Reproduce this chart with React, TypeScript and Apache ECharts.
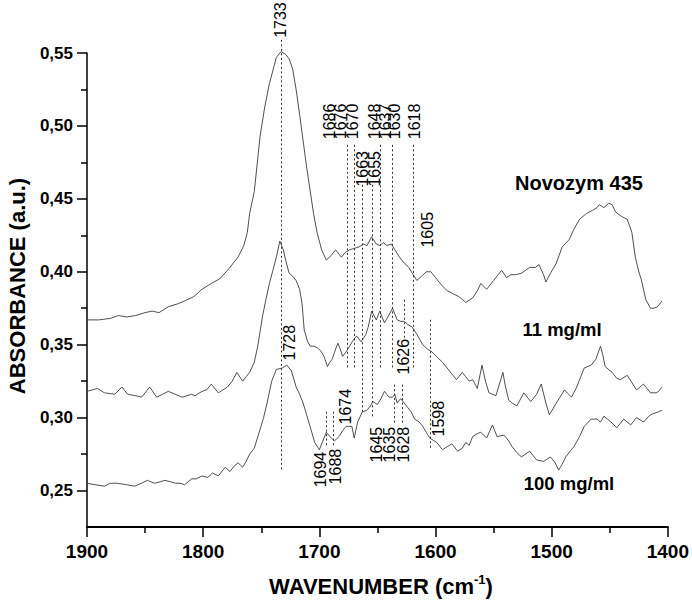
import React, { useEffect, useRef } from 'react';
import * as echarts from 'echarts';

const FONT = '"Liberation Sans", Arial, Helvetica, sans-serif';

// [wavenumber, absorbance]
const novozym435: [number, number][] = [
  [1900, 0.367], [1890, 0.367], [1880, 0.368], [1873, 0.370], [1866, 0.369], [1858, 0.370],
  [1850, 0.372], [1844, 0.373], [1838, 0.372], [1830, 0.376], [1822, 0.378], [1816, 0.380],
  [1808, 0.383], [1801, 0.388], [1793, 0.392], [1786, 0.395], [1779, 0.401], [1770, 0.410],
  [1765, 0.418], [1762, 0.427], [1760, 0.440], [1756, 0.455], [1751, 0.493], [1747, 0.513],
  [1743, 0.529], [1737, 0.547], [1733, 0.551], [1729, 0.549], [1726, 0.546], [1723, 0.539],
  [1720, 0.525], [1717, 0.508], [1714, 0.490], [1711, 0.472], [1708, 0.456], [1705, 0.440],
  [1702, 0.427], [1698, 0.415], [1694, 0.408], [1690, 0.411], [1686, 0.415], [1683, 0.412],
  [1681, 0.410], [1678, 0.413], [1674, 0.415], [1670, 0.416], [1666, 0.417], [1662, 0.419],
  [1659, 0.418], [1655, 0.424], [1651, 0.419], [1648, 0.418], [1645, 0.420], [1642, 0.418],
  [1638, 0.419], [1635, 0.415], [1631, 0.410], [1627, 0.406], [1623, 0.403], [1620, 0.399],
  [1616, 0.394], [1612, 0.397], [1608, 0.400], [1604, 0.400], [1600, 0.396], [1595, 0.391],
  [1590, 0.387], [1585, 0.385], [1580, 0.383], [1577, 0.381], [1574, 0.379], [1568, 0.382],
  [1564, 0.387], [1561, 0.392], [1556, 0.388], [1550, 0.394], [1546, 0.398], [1543, 0.401],
  [1539, 0.396], [1535, 0.398], [1531, 0.398], [1526, 0.399], [1519, 0.403], [1514, 0.403],
  [1511, 0.405], [1507, 0.398], [1505, 0.393], [1501, 0.399], [1496, 0.406], [1491, 0.417],
  [1485, 0.422], [1481, 0.429], [1476, 0.436], [1470, 0.440], [1465, 0.442], [1461, 0.444],
  [1459, 0.446], [1455, 0.444], [1451, 0.447], [1448, 0.446], [1445, 0.441], [1440, 0.438],
  [1435, 0.436], [1431, 0.427], [1428, 0.410], [1425, 0.400], [1423, 0.395], [1419, 0.381],
  [1415, 0.375], [1412, 0.375], [1409, 0.376], [1405, 0.380],
];

const mg11: [number, number][] = [
  [1900, 0.318], [1891, 0.320], [1885, 0.317], [1876, 0.316], [1870, 0.321], [1865, 0.316],
  [1858, 0.315], [1853, 0.314], [1846, 0.321], [1840, 0.314], [1835, 0.316], [1830, 0.318],
  [1824, 0.316], [1818, 0.314], [1810, 0.316], [1807, 0.315], [1801, 0.318], [1797, 0.319],
  [1793, 0.323], [1787, 0.317], [1783, 0.319], [1779, 0.321], [1775, 0.325], [1771, 0.331],
  [1766, 0.325], [1763, 0.328], [1760, 0.331], [1756, 0.338], [1753, 0.349], [1749, 0.369],
  [1746, 0.381], [1743, 0.392], [1740, 0.401], [1737, 0.410], [1734, 0.421], [1731, 0.415],
  [1729, 0.408], [1726, 0.399], [1723, 0.397], [1720, 0.394], [1717, 0.388], [1715, 0.379],
  [1713, 0.360], [1710, 0.352], [1708, 0.349], [1705, 0.349], [1702, 0.348], [1699, 0.346],
  [1696, 0.342], [1693, 0.335], [1691, 0.338], [1689, 0.340], [1686, 0.347], [1684, 0.351],
  [1682, 0.347], [1680, 0.342], [1677, 0.345], [1674, 0.349], [1671, 0.353], [1668, 0.356],
  [1664, 0.352], [1660, 0.357], [1658, 0.362], [1655, 0.373], [1653, 0.370], [1651, 0.367],
  [1648, 0.373], [1646, 0.369], [1644, 0.365], [1641, 0.369], [1637, 0.375], [1635, 0.371],
  [1633, 0.367], [1630, 0.366], [1627, 0.366], [1624, 0.364], [1620, 0.362], [1616, 0.357],
  [1611, 0.350], [1607, 0.347], [1603, 0.345], [1598, 0.341], [1594, 0.338], [1588, 0.332],
  [1582, 0.326], [1577, 0.331], [1574, 0.328], [1571, 0.325], [1568, 0.326], [1564, 0.320],
  [1560, 0.336], [1557, 0.325], [1554, 0.317], [1548, 0.315], [1542, 0.331], [1540, 0.322],
  [1537, 0.312], [1534, 0.310], [1530, 0.308], [1524, 0.317], [1518, 0.311], [1513, 0.316],
  [1509, 0.323], [1505, 0.310], [1502, 0.302], [1499, 0.306], [1496, 0.310], [1489, 0.319],
  [1483, 0.314], [1479, 0.320], [1475, 0.328], [1472, 0.334], [1466, 0.336], [1462, 0.340],
  [1458, 0.349], [1456, 0.343], [1454, 0.335], [1448, 0.331], [1444, 0.327], [1441, 0.326],
  [1435, 0.329], [1431, 0.324], [1427, 0.319], [1421, 0.323], [1418, 0.320], [1415, 0.317],
  [1410, 0.317], [1408, 0.318], [1405, 0.321],
];

const mg100: [number, number][] = [
  [1900, 0.255], [1893, 0.254], [1885, 0.253], [1880, 0.255], [1874, 0.255], [1866, 0.254],
  [1859, 0.253], [1853, 0.255], [1848, 0.257], [1842, 0.255], [1837, 0.256], [1833, 0.257],
  [1828, 0.256], [1824, 0.255], [1820, 0.255], [1816, 0.254], [1810, 0.258], [1806, 0.258],
  [1801, 0.260], [1796, 0.259], [1792, 0.262], [1787, 0.260], [1781, 0.266], [1777, 0.263],
  [1773, 0.267], [1770, 0.269], [1766, 0.266], [1763, 0.270], [1760, 0.275], [1756, 0.279],
  [1751, 0.292], [1748, 0.300], [1745, 0.310], [1741, 0.325], [1737, 0.333], [1732, 0.334],
  [1728, 0.336], [1724, 0.332], [1720, 0.321], [1717, 0.316], [1714, 0.310], [1711, 0.302],
  [1708, 0.294], [1704, 0.283], [1700, 0.278], [1697, 0.284], [1694, 0.290], [1691, 0.287],
  [1687, 0.284], [1683, 0.287], [1680, 0.291], [1677, 0.294], [1672, 0.294], [1670, 0.286],
  [1667, 0.297], [1663, 0.304], [1659, 0.305], [1656, 0.308], [1654, 0.311], [1650, 0.309],
  [1647, 0.313], [1644, 0.318], [1640, 0.314], [1637, 0.314], [1635, 0.316], [1633, 0.310],
  [1630, 0.313], [1628, 0.311], [1624, 0.307], [1621, 0.304], [1618, 0.299], [1614, 0.297],
  [1611, 0.294], [1608, 0.290], [1605, 0.286], [1599, 0.283], [1594, 0.278], [1590, 0.280],
  [1586, 0.282], [1581, 0.277], [1577, 0.279], [1574, 0.283], [1571, 0.281], [1568, 0.287],
  [1564, 0.289], [1561, 0.290], [1556, 0.286], [1551, 0.295], [1547, 0.287], [1541, 0.288],
  [1537, 0.284], [1534, 0.280], [1530, 0.276], [1526, 0.273], [1519, 0.277], [1513, 0.271],
  [1507, 0.270], [1501, 0.273], [1497, 0.269], [1494, 0.264], [1491, 0.268], [1488, 0.273],
  [1484, 0.277], [1481, 0.280], [1476, 0.287], [1472, 0.294], [1466, 0.299], [1461, 0.299],
  [1458, 0.297], [1455, 0.301], [1449, 0.297], [1444, 0.293], [1438, 0.299], [1432, 0.295],
  [1427, 0.300], [1421, 0.297], [1415, 0.302], [1408, 0.304], [1405, 0.305],
];

const yTickValues = [0.25, 0.3, 0.35, 0.4, 0.45, 0.5, 0.55];
const yMinorTickValues = [0.275, 0.325, 0.375, 0.425, 0.475, 0.525];

// dotted marker lines: [wavenumber, top absorbance, bottom absorbance]
const peakLines: [number, number, number][] = [
  [1733, 0.559, 0.2644],
  [1676, 0.487, 0.3343],
  [1670.5, 0.487, 0.3343],
  [1663.5, 0.4596, 0.3034],
  [1654.5, 0.4596, 0.3007],
  [1648, 0.487, 0.3343],
  [1637.5, 0.487, 0.3343],
  [1619, 0.487, 0.3343],
  [1627, 0.3808, 0.3534],
  [1605, 0.3671, 0.2781],
  [1694, 0.3041, 0.2801],
  [1688, 0.3041, 0.2801],
  [1636, 0.3226, 0.2952],
  [1628.5, 0.3226, 0.2952],
];

// peak labels
const peakLabelText = ['1733', '1686', '1676', '1670', '1648', '1637', '1630', '1618', '1663', '1655',
  '1605', '1728', '1626', '1674', '1598', '1694', '1688', '1645', '1635', '1628'];
const peakLabelWn = [1733.3, 1691.2, 1681.4, 1671.5, 1652.6, 1643.1, 1634.9, 1618.2, 1662.9, 1652.6,
  1607.0, 1725.6, 1627.7, 1677.5, 1597.6, 1699.0, 1686.1, 1650.9, 1639.7, 1627.7];
const peakLabelAbs = [0.5726, 0.5031, 0.5031, 0.5031, 0.5031, 0.5031, 0.5031, 0.5031, 0.4706, 0.4706,
  0.4288, 0.3514, 0.3418, 0.3075, 0.2993, 0.2644, 0.2664, 0.2815, 0.2815, 0.2815];

// curve names
const curveNames = ['Novozym 435', '11 mg/ml', '100 mg/ml'];
const curveNameWn = [1476.5, 1491.1, 1485.1];
const curveNameAbs = [0.461, 0.3603, 0.2548];
const curveNameSize = [20, 18.5, 18.5];

export default function App() {
  const ref = useRef<HTMLDivElement>(null);
  useEffect(() => {
    if (!ref.current) return;
    const chart = echarts.init(ref.current, undefined, { renderer: 'svg' });
    const lineStyle = { color: '#3c3c3c', width: 0.9 };
    const mkLine = (name: string, data: [number, number][]) => ({
      type: 'line', name, data, showSymbol: false, symbol: 'none', clip: false, silent: true,
      lineStyle, z: 3,
    });
    chart.setOption({
      animation: false,
      backgroundColor: '#ffffff',
      grid: { left: 87, right: 23, top: 53, bottom: 76, containLabel: false },
      xAxis: {
        type: 'value', min: 1400, max: 1900, interval: 100, inverse: true,
        axisLine: { show: true, onZero: false, lineStyle: { color: '#000', width: 2 } },
        axisTick: { show: true, inside: false, length: 10, lineStyle: { color: '#000', width: 1.5 } },
        minorTick: { show: true, splitNumber: 2, length: 6, lineStyle: { color: '#000', width: 1.5 } },
        splitLine: { show: false },
        axisLabel: {
          margin: 15, color: '#000', fontSize: 19, fontWeight: 'bold', fontFamily: FONT,
          formatter: (v: number) => String(Math.round(v)),
        },
      },
      yAxis: [
        {
          type: 'value', min: 0.225, max: 0.55,
          axisLine: { show: true, onZero: false, lineStyle: { color: '#000', width: 1.5 } },
          axisTick: { show: true, inside: false, length: 10, customValues: yTickValues, lineStyle: { color: '#000', width: 1.5 } },
          splitLine: { show: false },
          axisLabel: {
            customValues: yTickValues, margin: 14, color: '#000', fontSize: 17, fontWeight: 'bold', fontFamily: FONT,
            formatter: (v: number) => v.toFixed(2).replace('.', ','),
          },
        },
        {
          type: 'value', min: 0.225, max: 0.55, position: 'left',
          axisLine: { show: false },
          axisTick: { show: true, inside: false, length: 6, customValues: yMinorTickValues, lineStyle: { color: '#000', width: 1.5 } },
          splitLine: { show: false },
          axisLabel: { show: false },
        },
      ],
      series: [
        mkLine('Novozym 435', novozym435),
        mkLine('11 mg/ml', mg11),
        mkLine('100 mg/ml', mg100),
        {
          type: 'custom', name: 'peakLines', silent: true, z: 2,
          data: peakLines,
          encode: { x: 0, y: [1, 2] },
          renderItem: (params: any, api: any) => {
            const p1 = api.coord([api.value(0), api.value(1)]);
            const p2 = api.coord([api.value(0), api.value(2)]);
            const x = Math.round(p1[0]) + 0.5;
            return {
              type: 'line',
              shape: { x1: x, y1: p1[1], x2: x, y2: p2[1] },
              style: { stroke: '#333', lineWidth: 1, lineDash: [2, 2.5] },
            };
          },
        },
        {
          type: 'custom', name: 'peakLabels', silent: true, z: 4,
          data: peakLabelWn.map((w, i) => [w, peakLabelAbs[i]]),
          encode: { x: 0, y: 1 },
          renderItem: (params: any, api: any) => {
            const p = api.coord([api.value(0), api.value(1)]);
            return {
              type: 'text', x: p[0], y: p[1], rotation: Math.PI / 2,
              style: {
                text: peakLabelText[params.dataIndex],
                font: `16px ${FONT}`, fill: '#000',
                align: 'center', verticalAlign: 'middle',
                textAlign: 'center', textVerticalAlign: 'middle',
              },
            };
          },
        },
        {
          type: 'custom', name: 'curveNames', silent: true, z: 4,
          data: curveNameWn.map((w, i) => [w, curveNameAbs[i]]),
          encode: { x: 0, y: 1 },
          renderItem: (params: any, api: any) => {
            const p = api.coord([api.value(0), api.value(1)]);
            return {
              type: 'text', x: p[0], y: p[1],
              style: {
                text: curveNames[params.dataIndex],
                font: `bold ${curveNameSize[params.dataIndex]}px ${FONT}`, fill: '#000',
                align: 'center', verticalAlign: 'middle',
                textAlign: 'center', textVerticalAlign: 'middle',
              },
            };
          },
        },
      ],
      graphic: [
        {
          type: 'text', x: 17, y: 286, rotation: Math.PI / 2, silent: true,
          style: {
            text: 'ABSORBANCE (a.u.)', font: `bold 22px ${FONT}`, fill: '#000',
            align: 'center', verticalAlign: 'middle', textAlign: 'center', textVerticalAlign: 'middle',
          },
        },
        {
          type: 'text', x: 381, y: 586, silent: true,
          style: {
            text: '{a|WAVENUMBER (cm}{b|-1}{a|)}',
            fill: '#000',
            align: 'center', verticalAlign: 'middle', textAlign: 'center', textVerticalAlign: 'middle',
            rich: {
              a: { font: `bold 22px ${FONT}`, fill: '#000', lineHeight: 26 },
              b: { font: `bold 13px ${FONT}`, fill: '#000', verticalAlign: 'top', lineHeight: 14 },
            },
          },
        },
      ],
    });
    return () => chart.dispose();
  }, []);
  return (
    <div
      ref={ref}
      style={{ position: 'fixed', left: 0, top: 0, width: 692, height: 603, background: '#fff' }}
    />
  );
}
